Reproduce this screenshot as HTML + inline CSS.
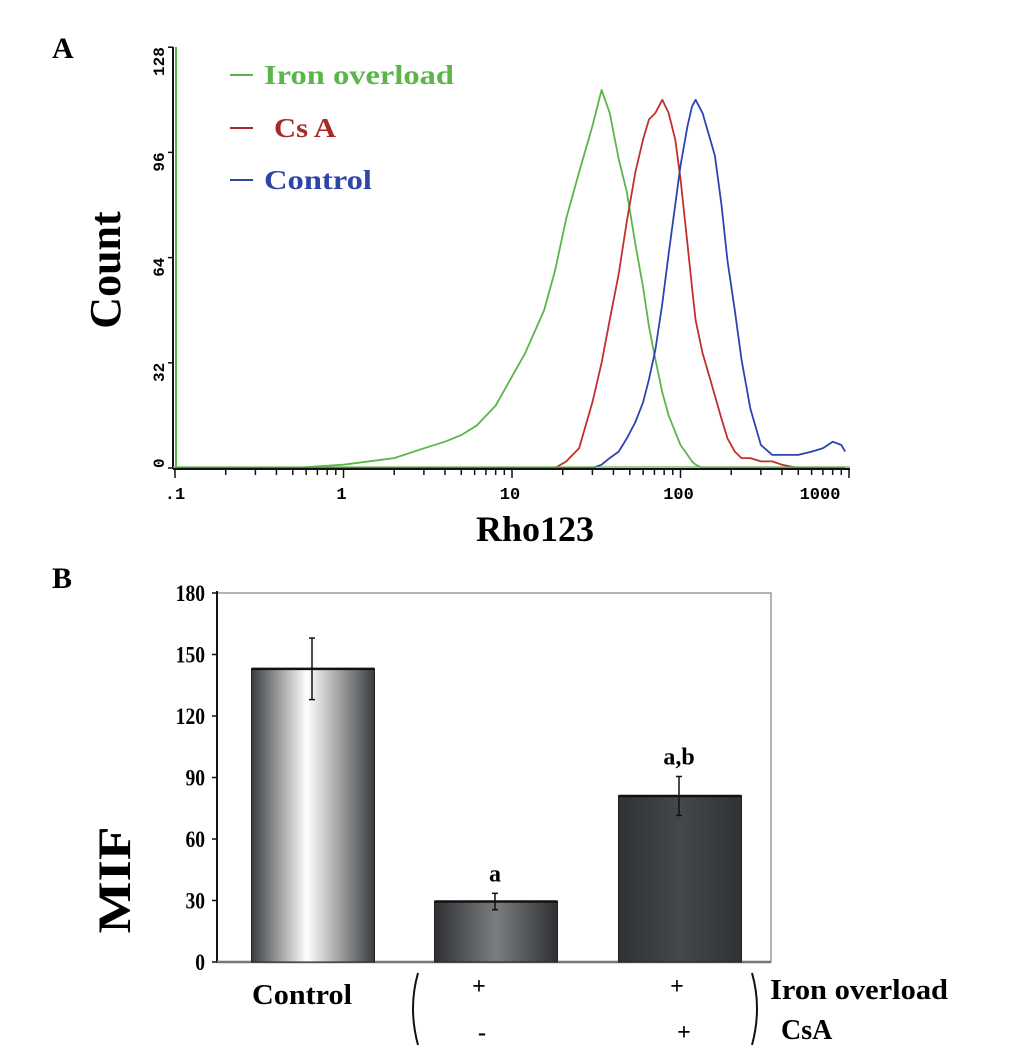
<!DOCTYPE html>
<html><head><meta charset="utf-8">
<style>
html,body{margin:0;padding:0;background:#fff;}
body{width:1033px;height:1049px;overflow:hidden;position:relative;}
svg{position:absolute;left:0;top:0;}
</style></head>
<body>
<svg width="1033" height="1049" viewBox="0 0 1033 1049">
<defs>
<linearGradient id="gCtrl" x1="0" x2="1" y1="0" y2="0">
<stop offset="0" stop-color="#3a3d40"/><stop offset="0.45" stop-color="#ffffff"/><stop offset="1" stop-color="#3a3d40"/>
</linearGradient>
<linearGradient id="gIron" x1="0" x2="1" y1="0" y2="0">
<stop offset="0" stop-color="#2e3033"/><stop offset="0.5" stop-color="#7a7d80"/><stop offset="1" stop-color="#2e3033"/>
</linearGradient>
<linearGradient id="gCsa" x1="0" x2="1" y1="0" y2="0">
<stop offset="0" stop-color="#2f3234"/><stop offset="0.5" stop-color="#45484b"/><stop offset="1" stop-color="#2f3234"/>
</linearGradient>
</defs>
<g id="panelA"></g>
<g id="panelB"></g>
</svg>
<script>
// ---- Panel A data ----
const histX = [0.1,0.5,1,2,3,4,5,6.2,8,9.8,12,15.5,18,21,25,30,34,38,43,48,54,60,65,71,78,85,93,100,110,117,123,135,150,160,175,190,210,230,260,300,350,400,500,600,700,800,900,950];
const ironCounts = [0,0,1,3,6,8,10,13,19,27,35,48,60,76,90,104,115,108,94,84,68,55,43,33,23,16,11,7,4,2,1,0,0,0,0,0,0,0,0,0,0,0,0,0,0,0,0,0];
const csaCounts  = [0,0,0,0,0,0,0,0,0,0,0,0,0,2,6,20,32,45,59,75,90,100,106,108,112,108,100,88,68,55,45,35,27,22,15,9,5,3,3,2,2,1,0,0,0,0,0,0];
const ctrlCounts = [0,0,0,0,0,0,0,0,0,0,0,0,0,0,0,0,1,3,5,9,14,20,27,36,50,65,80,92,104,110,112,108,100,95,80,63,48,33,18,7,4,4,4,5,6,8,7,5];
const yTicksA = [0,32,64,96,128];
const xTicksA = [0.1,1,10,100,1000];
const xTickLabelsA = [".1","1","10","100","1000"];

// ---- Panel B data ----
const barCats = ["Control","Iron overload","Iron overload + CsA"];
const barVals = [143,29.5,81];
const barErrs = [15,4,9.5];
const barSig = ["","a","a,b"];
const yTicksB = [0,30,60,90,120,150,180];

const NS="http://www.w3.org/2000/svg";
function mk(parent,tag,attrs,text){const e=document.createElementNS(NS,tag);for(const k in attrs)e.setAttribute(k,attrs[k]);if(text!==undefined)e.textContent=text;parent.appendChild(e);return e;}

// ===== Panel A =====
const A=document.getElementById('panelA');
const ax0=175, axDec=168.5, ay0=468, ayPer=105.2/32;
function xA(v){return ax0+axDec*Math.log10(v/0.1);}
function yA(c){return ay0-c*ayPer;}

let t=mk(A,'text',{x:52,y:58,'font-family':'Liberation Serif, serif','font-weight':'bold','font-size':30},'A');



const series=[[ironCounts,'#5cb54a','iron-overload-histogram'],[csaCounts,'#c0302c','csa-histogram'],[ctrlCounts,'#2b45b0','control-histogram']];
series.forEach(s=>{
  let d='';
  histX.forEach((v,i)=>{const x=xA(v),y=yA(s[0][i]);d+=(i?'L':'M')+x.toFixed(1)+','+y.toFixed(1)+' ';});
  const p=mk(A,'path',{d:d,fill:'none',stroke:s[1],'stroke-width':1.8,'stroke-linejoin':'round'});
  
  
});

let yl=mk(A,'line',{x1:173,y1:47,x2:173,y2:469,stroke:'#111','stroke-width':2});


mk(A,'line',{x1:176,y1:47,x2:176,y2:469,stroke:'#5cb54a','stroke-width':2});
let xl=mk(A,'line',{x1:173,y1:469,x2:850,y2:469,stroke:'#111','stroke-width':2});


mk(A,'line',{x1:173,y1:467,x2:850,y2:467,stroke:'#5cb54a','stroke-width':1.2});
for(let dec=0.1;dec<=1000;dec*=10){
  for(let m=1;m<10;m++){const v=dec*m; const x=xA(v); if(x>850)break;
    mk(A,'line',{x1:x,y1:469,x2:x,y2:m===1?478:475,stroke:'#111','stroke-width':1.5});}
}
xTicksA.forEach((v,i)=>{
  let tx=mk(A,'text',{x:i===4?820:xA(v)-(i===0?0:2),y:499,'font-family':'Liberation Mono, monospace','font-weight':'bold','font-size':17,'text-anchor':'middle'},xTickLabelsA[i]);
  
  
});
yTicksA.forEach(v=>{
  const y=yA(v);
  mk(A,'line',{x1:168,y1:y,x2:173,y2:y,stroke:'#111','stroke-width':1.5});
  let ty=mk(A,'text',{x:0,y:0,transform:`translate(164,${y}) rotate(-90)`,'font-family':'Liberation Mono, monospace','font-weight':'bold','font-size':16,'text-anchor':v===0?'start':'end'},String(v));
  
  
});
let yt=mk(A,'text',{x:0,y:0,transform:'translate(120,270) rotate(-90)','font-family':'Liberation Serif, serif','font-weight':'bold','font-size':44,'text-anchor':'middle'},'Count');


let xt=mk(A,'text',{x:535,y:541,'font-family':'Liberation Serif, serif','font-weight':'bold','font-size':36,'text-anchor':'middle'},'Rho123');



const leg=[['Iron overload','#5cb54a',75,264,190],['Cs A','#a52a2a',128,274,62],['Control','#2b45a8',180,264,108]];
leg.forEach(l=>{
  const g=mk(A,'g',{});
  
  
  mk(g,'line',{x1:230,y1:l[2],x2:253,y2:l[2],stroke:l[1],'stroke-width':2});
  mk(g,'text',{x:l[3],y:l[2]+9,'font-family':'Liberation Serif, serif','font-weight':'bold','font-size':27,fill:l[1],textLength:l[4],lengthAdjust:'spacingAndGlyphs'},l[0]);
});

// ===== Panel B =====
const B=document.getElementById('panelB');
const bL=217,bR=771,bT=593,bB=962;
function yB(v){return bB-(v/180)*(bB-bT);}
let tb=mk(B,'text',{x:52,y:588,'font-family':'Liberation Serif, serif','font-weight':'bold','font-size':30},'B');


let frame=mk(B,'rect',{x:bL,y:bT,width:bR-bL,height:bB-bT,fill:'none',stroke:'#999','stroke-width':1.5});


mk(B,'line',{x1:bL,y1:bT-2,x2:bL,y2:bB+1,stroke:'#111','stroke-width':2});
let xb=mk(B,'line',{x1:bL,y1:bB,x2:bR,y2:bB,stroke:'#777','stroke-width':2.5});


yTicksB.forEach(v=>{
  const y=yB(v);
  mk(B,'line',{x1:bL-5,y1:y,x2:bL,y2:y,stroke:'#111','stroke-width':1.5});
  let tl=mk(B,'text',{x:bL-12,y:y+8,'font-family':'Liberation Serif, serif','font-weight':'bold','font-size':23,'text-anchor':'end',transform:`translate(${(bL-12)*0.15},0) scale(0.85,1)`},String(v));
  
  
});
let mif=mk(B,'text',{x:0,y:0,transform:'translate(130,880) rotate(-90) scale(1.25,1.05)','font-family':'Liberation Serif, serif','font-weight':'bold','font-size':44,'text-anchor':'middle'},'MIF');



const barCenters=[313,496,680], barW=123, fills=['url(#gCtrl)','url(#gIron)','url(#gCsa)'];
barVals.forEach((v,i)=>{
  const cx=barCenters[i], y=yB(v);
  const r=mk(B,'rect',{x:cx-barW/2,y:y,width:barW,height:bB-y,fill:fills[i],stroke:'#222','stroke-width':1});
  
  
  mk(B,'line',{x1:cx-barW/2,y1:y,x2:cx+barW/2,y2:y,stroke:'#111','stroke-width':2.5});
  const ex=cx-1, y1=yB(v+barErrs[i]), y2=yB(v-barErrs[i]);
  const eb=mk(B,'g',{});
  
  
  mk(eb,'line',{x1:ex,y1:y1,x2:ex,y2:y2,stroke:'#111','stroke-width':1.5});
  mk(eb,'line',{x1:ex-3,y1:y1,x2:ex+3,y2:y1,stroke:'#111','stroke-width':1.5});
  mk(eb,'line',{x1:ex-3,y1:y2,x2:ex+3,y2:y2,stroke:'#111','stroke-width':1.5});
  if(barSig[i]){
    const s=mk(B,'text',{x:ex,y:y1-12,'font-family':'Liberation Serif, serif','font-weight':'bold','font-size':24,'text-anchor':'middle'},barSig[i]);
    
    
  }
});
function lab(x,y,txt,name,size,anchor,len){const a={x:x,y:y,'font-family':'Liberation Serif, serif','font-weight':'bold','font-size':size||22,'text-anchor':anchor||'middle'};if(len){a.textLength=len;a.lengthAdjust='spacingAndGlyphs';}const e=mk(B,'text',a,txt);return e;}
lab(302,1004,'Control','category-label-control',28,'middle',100);
lab(479,994,'+','iron-plus-1',24);
lab(677,994,'+','iron-plus-2',24);
lab(482,1040,'-','csa-minus',24);
lab(684,1040,'+','csa-plus',24);
lab(770,999,'Iron overload','treatment-label-iron-overload',28,'start',178);
lab(781,1039,'CsA','treatment-label-csa',28,'start');
let br1=mk(B,'path',{d:'M418,973 Q408,1008 418,1045',fill:'none',stroke:'#111','stroke-width':2});


let br2=mk(B,'path',{d:'M752,973 Q762,1008 752,1045',fill:'none',stroke:'#111','stroke-width':2});


</script>
</body></html>
